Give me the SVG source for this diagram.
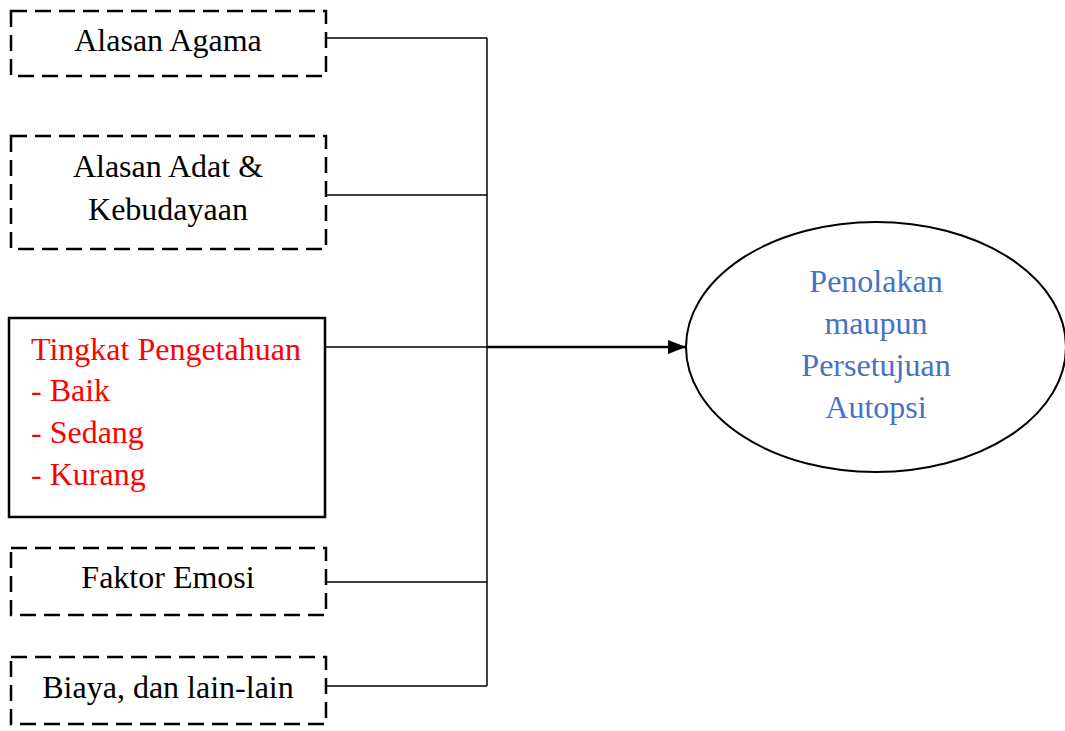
<svg xmlns="http://www.w3.org/2000/svg" width="1065" height="731" viewBox="0 0 1065 731">
<defs>
<style>
.dash{fill:#fff;stroke:#000;stroke-width:2.5;stroke-dasharray:16 8}
.solid{fill:#fff;stroke:#000;stroke-width:2.5}
.t{font-family:"Liberation Serif","Times New Roman",serif;font-size:32px;fill:#000;text-anchor:middle}
.r{font-family:"Liberation Serif","Times New Roman",serif;font-size:32px;fill:#ff0000}
.b{font-family:"Liberation Serif","Times New Roman",serif;font-size:32px;fill:#4472c4;text-anchor:middle}
.c{stroke:#000;stroke-width:1.5;fill:none}
</style>
<marker id="ah" viewBox="0 0 18 14" refX="18" refY="7" markerWidth="18" markerHeight="14" orient="auto" markerUnits="userSpaceOnUse">
<path d="M0,0 L18,7 L0,14 z" fill="#000"/>
</marker>
</defs>
<g id="connectors">
<line class="c" x1="326" y1="38" x2="487" y2="38"/>
<line class="c" x1="326" y1="195" x2="487" y2="195"/>
<line class="c" x1="326" y1="347" x2="487" y2="347"/>
<line class="c" x1="326" y1="582" x2="487" y2="582"/>
<line class="c" x1="326" y1="686" x2="487" y2="686"/>
<line class="c" x1="487" y1="38" x2="487" y2="686"/>
<line x1="487" y1="347" x2="686" y2="347" stroke="#000" stroke-width="2.5" marker-end="url(#ah)"/>
</g>
<g id="node-agama">
<rect class="dash" x="11" y="11" width="315" height="65"/>
<text class="t" x="168" y="51">Alasan Agama</text>
</g>
<g id="node-adat">
<rect class="dash" x="11" y="136" width="315" height="113"/>
<text class="t" x="168" y="177">Alasan Adat &amp;</text>
<text class="t" x="168" y="220">Kebudayaan</text>
</g>
<g id="node-pengetahuan">
<rect class="solid" x="9" y="318" width="316" height="199"/>
<text class="r" x="31" y="360">Tingkat Pengetahuan</text>
<text class="r" x="31" y="401">- Baik</text>
<text class="r" x="31" y="443">- Sedang</text>
<text class="r" x="31" y="485">- Kurang</text>
</g>
<g id="node-emosi">
<rect class="dash" x="11" y="548" width="315" height="67"/>
<text class="t" x="168" y="588">Faktor Emosi</text>
</g>
<g id="node-biaya">
<rect class="dash" x="11" y="657" width="315" height="67"/>
<text class="t" x="168" y="698">Biaya, dan lain-lain</text>
</g>
<g id="node-autopsi">
<ellipse cx="876" cy="347" rx="190" ry="125" fill="#fff" stroke="#000" stroke-width="2"/>
<text class="b" x="876" y="292">Penolakan</text>
<text class="b" x="876" y="334">maupun</text>
<text class="b" x="876" y="376">Persetujuan</text>
<text class="b" x="876" y="418">Autopsi</text>
</g>
</svg>
